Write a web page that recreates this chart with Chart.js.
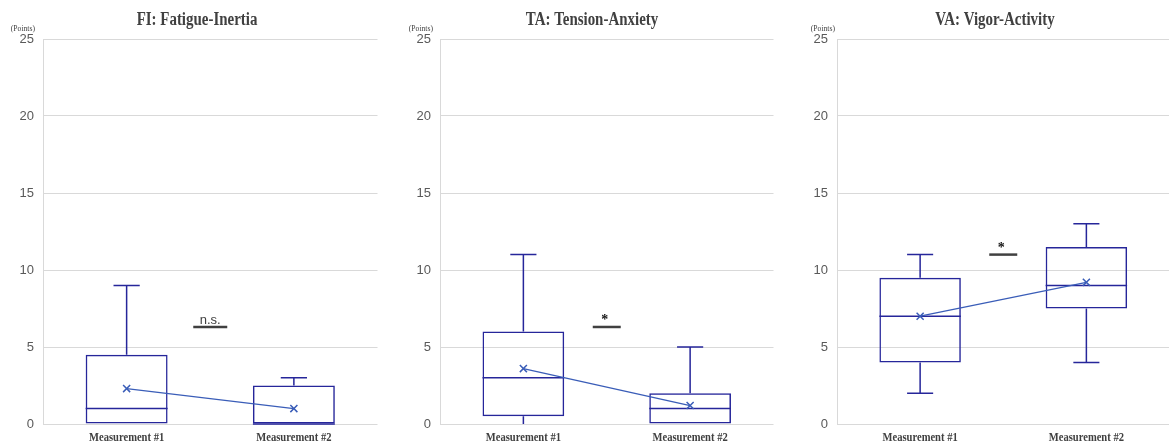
<!DOCTYPE html>
<html>
<head>
<meta charset="utf-8">
<script src="https://cdn.jsdelivr.net/npm/chart.js@4/dist/chart.umd.min.js"></script>
<style>
  body { margin: 0; background: #fff; overflow: hidden; }
  .panel { position: absolute; top: 0; }
</style>
</head>
<body>
<div class="panel" style="left:0px"><canvas id="c1" width="384" height="448"></canvas></div>
<div class="panel" style="left:390px"><canvas id="c2" width="390" height="448"></canvas></div>
<div class="panel" style="left:780px"><canvas id="c3" width="396" height="448"></canvas></div>
<script>
// categories and tick values
var categories = ['Measurement #1', 'Measurement #2'];
var yTicks = [0, 5, 10, 15, 20, 25];

// FI: Fatigue-Inertia
var fiMin = [0, 0];
var fiQ1 = [0, 0];
var fiMedian = [1, 0];
var fiQ3 = [4.5, 2.5];
var fiMax = [9, 3];
var fiMean = [2.3, 1.0];

// TA: Tension-Anxiety
var taMin = [0, 0];
var taQ1 = [0.5, 0];
var taMedian = [3, 1];
var taQ3 = [6, 2];
var taMax = [11, 5];
var taMean = [3.6, 1.2];

// VA: Vigor-Activity
var vaMin = [2, 4];
var vaQ1 = [4, 7.5];
var vaMedian = [7, 9];
var vaQ3 = [9.5, 11.5];
var vaMax = [11, 13];
var vaMean = [7.0, 9.2];

// significance marks
var sigLabels = ['n.s.', '*', '*'];
var sigLevels = [6.3, 6.3, 11.0];

const BOX = '#26269a';
const MEAN = '#3a5db8';
const GRID = '#d9d9d9';
const TEXT = '#404040';

// whiskers, caps and median lines
const boxPlugin = {
  id: 'boxExtras',
  afterDatasetDraw(chart, args) {
    if (args.index !== 0) return;
    const o = chart.config.options.plugins.boxExtras;
    const ctx = chart.ctx;
    const y = chart.scales.y;
    const meta = chart.getDatasetMeta(0);
    ctx.save();
    ctx.strokeStyle = BOX;
    ctx.lineWidth = 1.5;
    meta.data.forEach(function (bar, i) {
      const cx = bar.x;
      const hw = bar.width / 2;
      const cap = bar.width * 0.16;
      ctx.beginPath();
      // median
      ctx.moveTo(cx - hw, y.getPixelForValue(o.median[i]));
      ctx.lineTo(cx + hw, y.getPixelForValue(o.median[i]));
      // upper whisker
      if (o.max[i] > o.q3[i]) {
        ctx.moveTo(cx, y.getPixelForValue(o.q3[i]));
        ctx.lineTo(cx, y.getPixelForValue(o.max[i]));
        ctx.moveTo(cx - cap, y.getPixelForValue(o.max[i]));
        ctx.lineTo(cx + cap, y.getPixelForValue(o.max[i]));
      }
      // lower whisker
      if (o.min[i] < o.q1[i]) {
        ctx.moveTo(cx, y.getPixelForValue(o.q1[i]));
        ctx.lineTo(cx, y.getPixelForValue(o.min[i]));
        if (o.min[i] > 0) {
          ctx.moveTo(cx - cap, y.getPixelForValue(o.min[i]));
          ctx.lineTo(cx + cap, y.getPixelForValue(o.min[i]));
        }
      }
      ctx.stroke();
    });
    ctx.restore();
  },
  afterDraw(chart) {
    const o = chart.config.options.plugins.boxExtras;
    const ctx = chart.ctx;
    const x = chart.scales.x;
    const y = chart.scales.y;
    const area = chart.chartArea;
    ctx.save();
    ctx.fillStyle = TEXT;
    ctx.textBaseline = 'alphabetic';

    // title (condensed serif)
    ctx.save();
    ctx.font = 'bold 18px "Liberation Serif"';
    ctx.textAlign = 'center';
    ctx.translate(o.titleX, 25);
    ctx.scale(0.83, 1);
    ctx.fillText(o.title, 0, 0);
    ctx.restore();

    // unit label
    ctx.save();
    ctx.font = '9px "Liberation Serif"';
    ctx.textAlign = 'right';
    ctx.translate(area.left - o.unitGap, 31);
    ctx.scale(0.85, 1);
    ctx.fillText('(Points)', 0, 0);
    ctx.restore();

    // category labels
    categories.forEach(function (lab, i) {
      ctx.save();
      ctx.font = 'bold 12px "Liberation Serif"';
      ctx.textAlign = 'center';
      ctx.translate(x.getPixelForValue(i), area.bottom + 17);
      ctx.scale(0.88, 1);
      ctx.fillText(lab, 0, 0);
      ctx.restore();
    });

    // significance mark
    const mx = (x.getPixelForValue(0) + x.getPixelForValue(1)) / 2;
    const my = y.getPixelForValue(o.sigLevel);
    ctx.strokeStyle = TEXT;
    ctx.lineWidth = 2.5;
    ctx.beginPath();
    const hw = o.sig === '*' ? 14 : 17;
    ctx.moveTo(mx - hw, my);
    ctx.lineTo(mx + hw, my);
    ctx.stroke();
    ctx.textAlign = 'center';
    if (o.sig === '*') {
      ctx.fillStyle = '#111';
      ctx.font = 'bold 14px "Liberation Serif"';
      ctx.fillText('*', mx - 2, my - 3);
    } else {
      ctx.font = '13px "Liberation Sans"';
      ctx.fillText(o.sig, mx, my - 3);
    }
    ctx.restore();
  }
};

function makeChart(id, title, titleX, yWidth, unitGap, mn, q1, med, q3, mx, mean, sig, sigLevel) {
  return new Chart(document.getElementById(id).getContext('2d'), {
    data: {
      labels: categories,
      datasets: [{
        type: 'bar',
        order: 1,
        data: q1.map(function (v, i) { return [v, q3[i]]; }),
        backgroundColor: 'rgba(255,255,255,0)',
        borderColor: BOX,
        borderWidth: 1.5,
        borderSkipped: false,
        barPercentage: 0.49,
        categoryPercentage: 1
      }, {
        type: 'line',
        order: 0,
        data: mean,
        borderColor: MEAN,
        borderWidth: 1.3,
        pointStyle: 'crossRot',
        pointRadius: 5,
        pointBorderColor: MEAN,
        pointBorderWidth: 1.5
      }]
    },
    options: {
      responsive: false,
      animation: false,
      layout: { padding: { top: 39, left: 0, right: 0, bottom: 0 } },
      plugins: {
        legend: { display: false },
        tooltip: { enabled: false },
        boxExtras: {
          title: title, titleX: titleX, unitGap: unitGap,
          min: mn, q1: q1, median: med, q3: q3, max: mx,
          sig: sig, sigLevel: sigLevel
        }
      },
      scales: {
        x: {
          grid: { display: false },
          border: { display: false },
          ticks: { display: false },
          afterFit: function (s) { s.height = 24; }
        },
        y: {
          min: 0,
          max: 25,
          afterBuildTicks: function (s) { s.ticks = yTicks.map(function (v) { return { value: v }; }); },
          grid: { color: GRID, lineWidth: 1, drawTicks: false },
          border: { display: true, color: GRID },
          ticks: { color: '#595959', padding: 9, font: { family: 'Liberation Sans', size: 13 } },
          afterFit: function (s) { s.width = yWidth; }
        }
      }
    },
    plugins: [boxPlugin]
  });
}

makeChart('c1', 'FI: Fatigue-Inertia', 197, 43, 8, fiMin, fiQ1, fiMedian, fiQ3, fiMax, fiMean, sigLabels[0], sigLevels[0]);
makeChart('c2', 'TA: Tension-Anxiety', 202, 50, 7, taMin, taQ1, taMedian, taQ3, taMax, taMean, sigLabels[1], sigLevels[1]);
makeChart('c3', 'VA: Vigor-Activity', 215, 57, 2, vaMin, vaQ1, vaMedian, vaQ3, vaMax, vaMean, sigLabels[2], sigLevels[2]);
</script>
</body>
</html>
